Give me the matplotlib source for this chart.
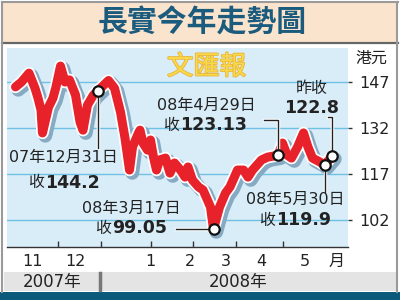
import matplotlib
matplotlib.use("Agg")
import matplotlib.pyplot as plt
import matplotlib.patheffects as pe
from matplotlib.patches import Rectangle
from matplotlib.lines import Line2D
from matplotlib.transforms import blended_transform_factory

plt.rcParams['font.family'] = ['DejaVu Sans', 'Noto Sans CJK TC']

# ----------- Data (days from 2007-12-31, closing price HK$) -----------

days = [-55, -51, -46, -42, -40, -38, -37, -33, -30, -28, -25, -22, -19, -15,
        -12, -10, -7, -3, 0, 7, 11, 15, 18, 21, 23, 27, 28, 30, 33, 35, 37,
        39, 41, 45, 48, 51, 55, 58, 60, 63, 67, 70, 73, 75, 77, 81, 85, 88,
        93, 97, 100, 103, 109, 113, 120, 123, 126, 129, 133, 137, 140, 143,
        148, 151, 156]
close = [145.4, 147.0, 149.9, 145.0, 141.8, 137.9, 130.4, 138.8, 141.8, 145.4,
         152.2, 147.0, 147.7, 142.8, 134.0, 131.3, 139.5, 142.8, 144.2, 147.5,
         145.0, 137.2, 128.7, 118.3, 125.8, 130.4, 131.3, 127.1, 124.8, 128.1,
         122.5, 118.3, 121.6, 122.2, 117.3, 120.6, 118.3, 116.0, 119.3, 115.0,
         112.8, 111.8, 108.5, 106.2, 99.05, 106.2, 110.8, 112.8, 118.3, 118.3,
         116.0, 118.3, 121.6, 122.5, 123.13, 127.1, 123.2, 122.2, 125.8, 130.4,
         125.8, 122.2, 120.9, 119.9, 122.8]

key_days = [0, 77, 120, 151, 156]
key_close = [144.2, 99.05, 123.13, 119.9, 122.8]

y_ticks = [102, 117, 132, 147]
month_ticks = [-27, 2, 35, 63, 92, 123]
month_label_pos = [-44, -15, 35, 61, 85, 109, 138, 159]
month_labels = ["11", "12", "1", "2", "3", "4", "5", "月"]

W, H = 400, 300


def fp(x, y):
    # reference pixel -> figure fraction
    return x / W, 1 - y / H


fig = plt.figure(figsize=(4, 3), dpi=100)
fig.patch.set_facecolor("white")

# ----------- Background blocks -----------
fig.patches.append(Rectangle(fp(2, 43), 396 / W, 40 / H, transform=fig.transFigure,
                             facecolor="#fbe4cd", edgecolor="none", zorder=0))
fig.add_artist(Line2D([0.005, 0.995], [1 - 43 / H] * 2, color="#666666", lw=1.6))
fig.add_artist(Line2D([0.005, 0.995], [1 - 2 / H] * 2, color="#9a9a9a", lw=1.5))
fig.add_artist(Line2D([0.005, 0.005], [1 - 292 / H, 1 - 2 / H], color="#9a9a9a", lw=1.5))
fig.add_artist(Line2D([0.993, 0.993], [1 - 292 / H, 1 - 2 / H], color="#9a9a9a", lw=1.5))
fig.patches.append(Rectangle(fp(4, 291), 392 / W, 19 / H, transform=fig.transFigure,
                             facecolor="#e4e4e4", edgecolor="none", zorder=0))
fig.add_artist(Line2D([100 / W] * 2, [1 - 290 / H, 1 - 273 / H], color="#777777", lw=2.5))
fig.patches.append(Rectangle(fp(0, 300), 1, 8 / H, transform=fig.transFigure,
                             facecolor="#0c5a7b", edgecolor="none", zorder=0))

fig.text(*fp(202, 23), "長實今年走勢圖", ha="center", va="center", fontsize=21.5,
         fontweight="black", color="#1b5b7e", family="Noto Sans CJK TC")

# ----------- Plot -----------
ax = fig.add_axes([7 / W, 1 - 247 / H, 341 / W, 199 / H])
ax.set_facecolor("#d9edf9")
ax.set_xlim((7 - 98) / 1.5, (348 - 98) / 1.5)
ax.set_ylim(93.2, 158.1)

for s in ["top", "left", "right"]:
    ax.spines[s].set_visible(False)
ax.spines["bottom"].set_color("#333333")
ax.spines["bottom"].set_linewidth(1)

ax.set_yticks(y_ticks)
ax.yaxis.tick_right()
ax.tick_params(axis="y", length=3, width=1, color="#333333", pad=5,
               labelsize=11.5, labelcolor="#222222")
ax.yaxis.grid(True, color="#6ec1e4", lw=1)
ax.set_axisbelow(True)

ax.set_xticks(month_ticks)
ax.tick_params(axis="x", direction="in", length=4, width=1,
               color="#333333", labelbottom=False)
month_trans = blended_transform_factory(ax.transData, fig.transFigure)
for xpos, lab in zip(month_label_pos, month_labels):
    fig.text(xpos, 1 - 261 / H, lab, transform=month_trans,
             ha="center", va="center", fontsize=11.5, color="#222222", zorder=10)

fig.text(*fp(371, 58), "港元", ha="center", va="center", fontsize=11.5, color="#222222")

ax.text(0.585, 1 - 19 / 199, "文匯報", transform=ax.transAxes, ha="center", va="center",
        fontsize=19, color="#f9d84a", family="Noto Sans CJK TC",
        path_effects=[pe.Stroke(linewidth=1.2, foreground="#e9b53a"), pe.Normal()])

lw = 6.5
ax.plot(days, close, color="#e8222b", lw=lw, solid_capstyle="round",
        solid_joinstyle="round", zorder=3,
        path_effects=[pe.SimpleLineShadow(offset=(2, -2), shadow_color="#86aac2",
                                          alpha=1, rho=1, linewidth=lw + 3.5),
                      pe.Stroke(linewidth=lw + 2.5, foreground="white"),
                      pe.Normal()])


def to_data(x, y):
    # reference pixel -> data coordinates
    return ax.transData.inverted().transform((x * fig.dpi / 100, (H - y) * fig.dpi / 100))


def leader(xs, ys):
    ax.plot(xs, ys, color="#222222", lw=1, zorder=4, clip_on=False,
            path_effects=[pe.Stroke(linewidth=2.5, foreground="white"), pe.Normal()])


leader([key_days[0], key_days[0]], [key_close[0], to_data(0, 148)[1]])
leader([key_days[1], to_data(176, 0)[0]], [key_close[1], key_close[1]])
y120 = to_data(0, 120)[1]
leader([key_days[2], key_days[2], to_data(264, 0)[0]], [key_close[2], y120, y120])
leader([key_days[3], key_days[3]], [key_close[3], to_data(0, 192)[1]])
y117 = to_data(0, 117)[1]
leader([key_days[4], key_days[4], to_data(328, 0)[0]], [key_close[4], y117, y117])

ax.plot(key_days, key_close, "o", ms=7.5, mfc="white", mec="#111111", mew=1.6,
        zorder=5, clip_on=False)

# ----------- Annotations -----------
fs = 11.5
fsb = 12.5
fig.text(*fp(63, 157), "07年12月31日", ha="center", va="center", fontsize=fs, color="#222222")
fig.text(*fp(44, 183), "收", ha="right", va="center", fontsize=fs, color="#222222")
fig.text(*fp(45, 183), f"{key_close[0]}", ha="left", va="center", fontsize=fsb,
         fontweight="bold", color="#222222")

fig.text(*fp(131, 208), "08年3月17日", ha="center", va="center", fontsize=fs, color="#222222")
fig.text(*fp(111, 228), "收", ha="right", va="center", fontsize=fs, color="#222222")
fig.text(*fp(112, 228), f"{key_close[1]}", ha="left", va="center", fontsize=fsb,
         fontweight="bold", color="#222222")

fig.text(*fp(206, 105), "08年4月29日", ha="center", va="center", fontsize=fs, color="#222222")
fig.text(*fp(179, 125), "收", ha="right", va="center", fontsize=fs, color="#222222")
fig.text(*fp(180, 125), f"{key_close[2]}", ha="left", va="center", fontsize=fsb,
         fontweight="bold", color="#222222")

fig.text(*fp(312, 88), "昨收", ha="center", va="center", fontsize=fs, color="#222222")
fig.text(*fp(312, 108), f"{key_close[4]}", ha="center", va="center", fontsize=fsb,
         fontweight="bold", color="#222222")

fig.text(*fp(295, 199), "08年5月30日", ha="center", va="center", fontsize=fs, color="#222222")
fig.text(*fp(275, 220), "收", ha="right", va="center", fontsize=fs, color="#222222")
fig.text(*fp(276, 220), f"{key_close[3]}", ha="left", va="center", fontsize=fsb,
         fontweight="bold", color="#222222")

# ----------- Year bar -----------
fig.text(*fp(52, 282), "2007年", ha="center", va="center", fontsize=12, color="#222222")
fig.text(*fp(238, 282), "2008年", ha="center", va="center", fontsize=12, color="#222222")

fig.savefig("out.png", dpi=100, facecolor=fig.get_facecolor())
